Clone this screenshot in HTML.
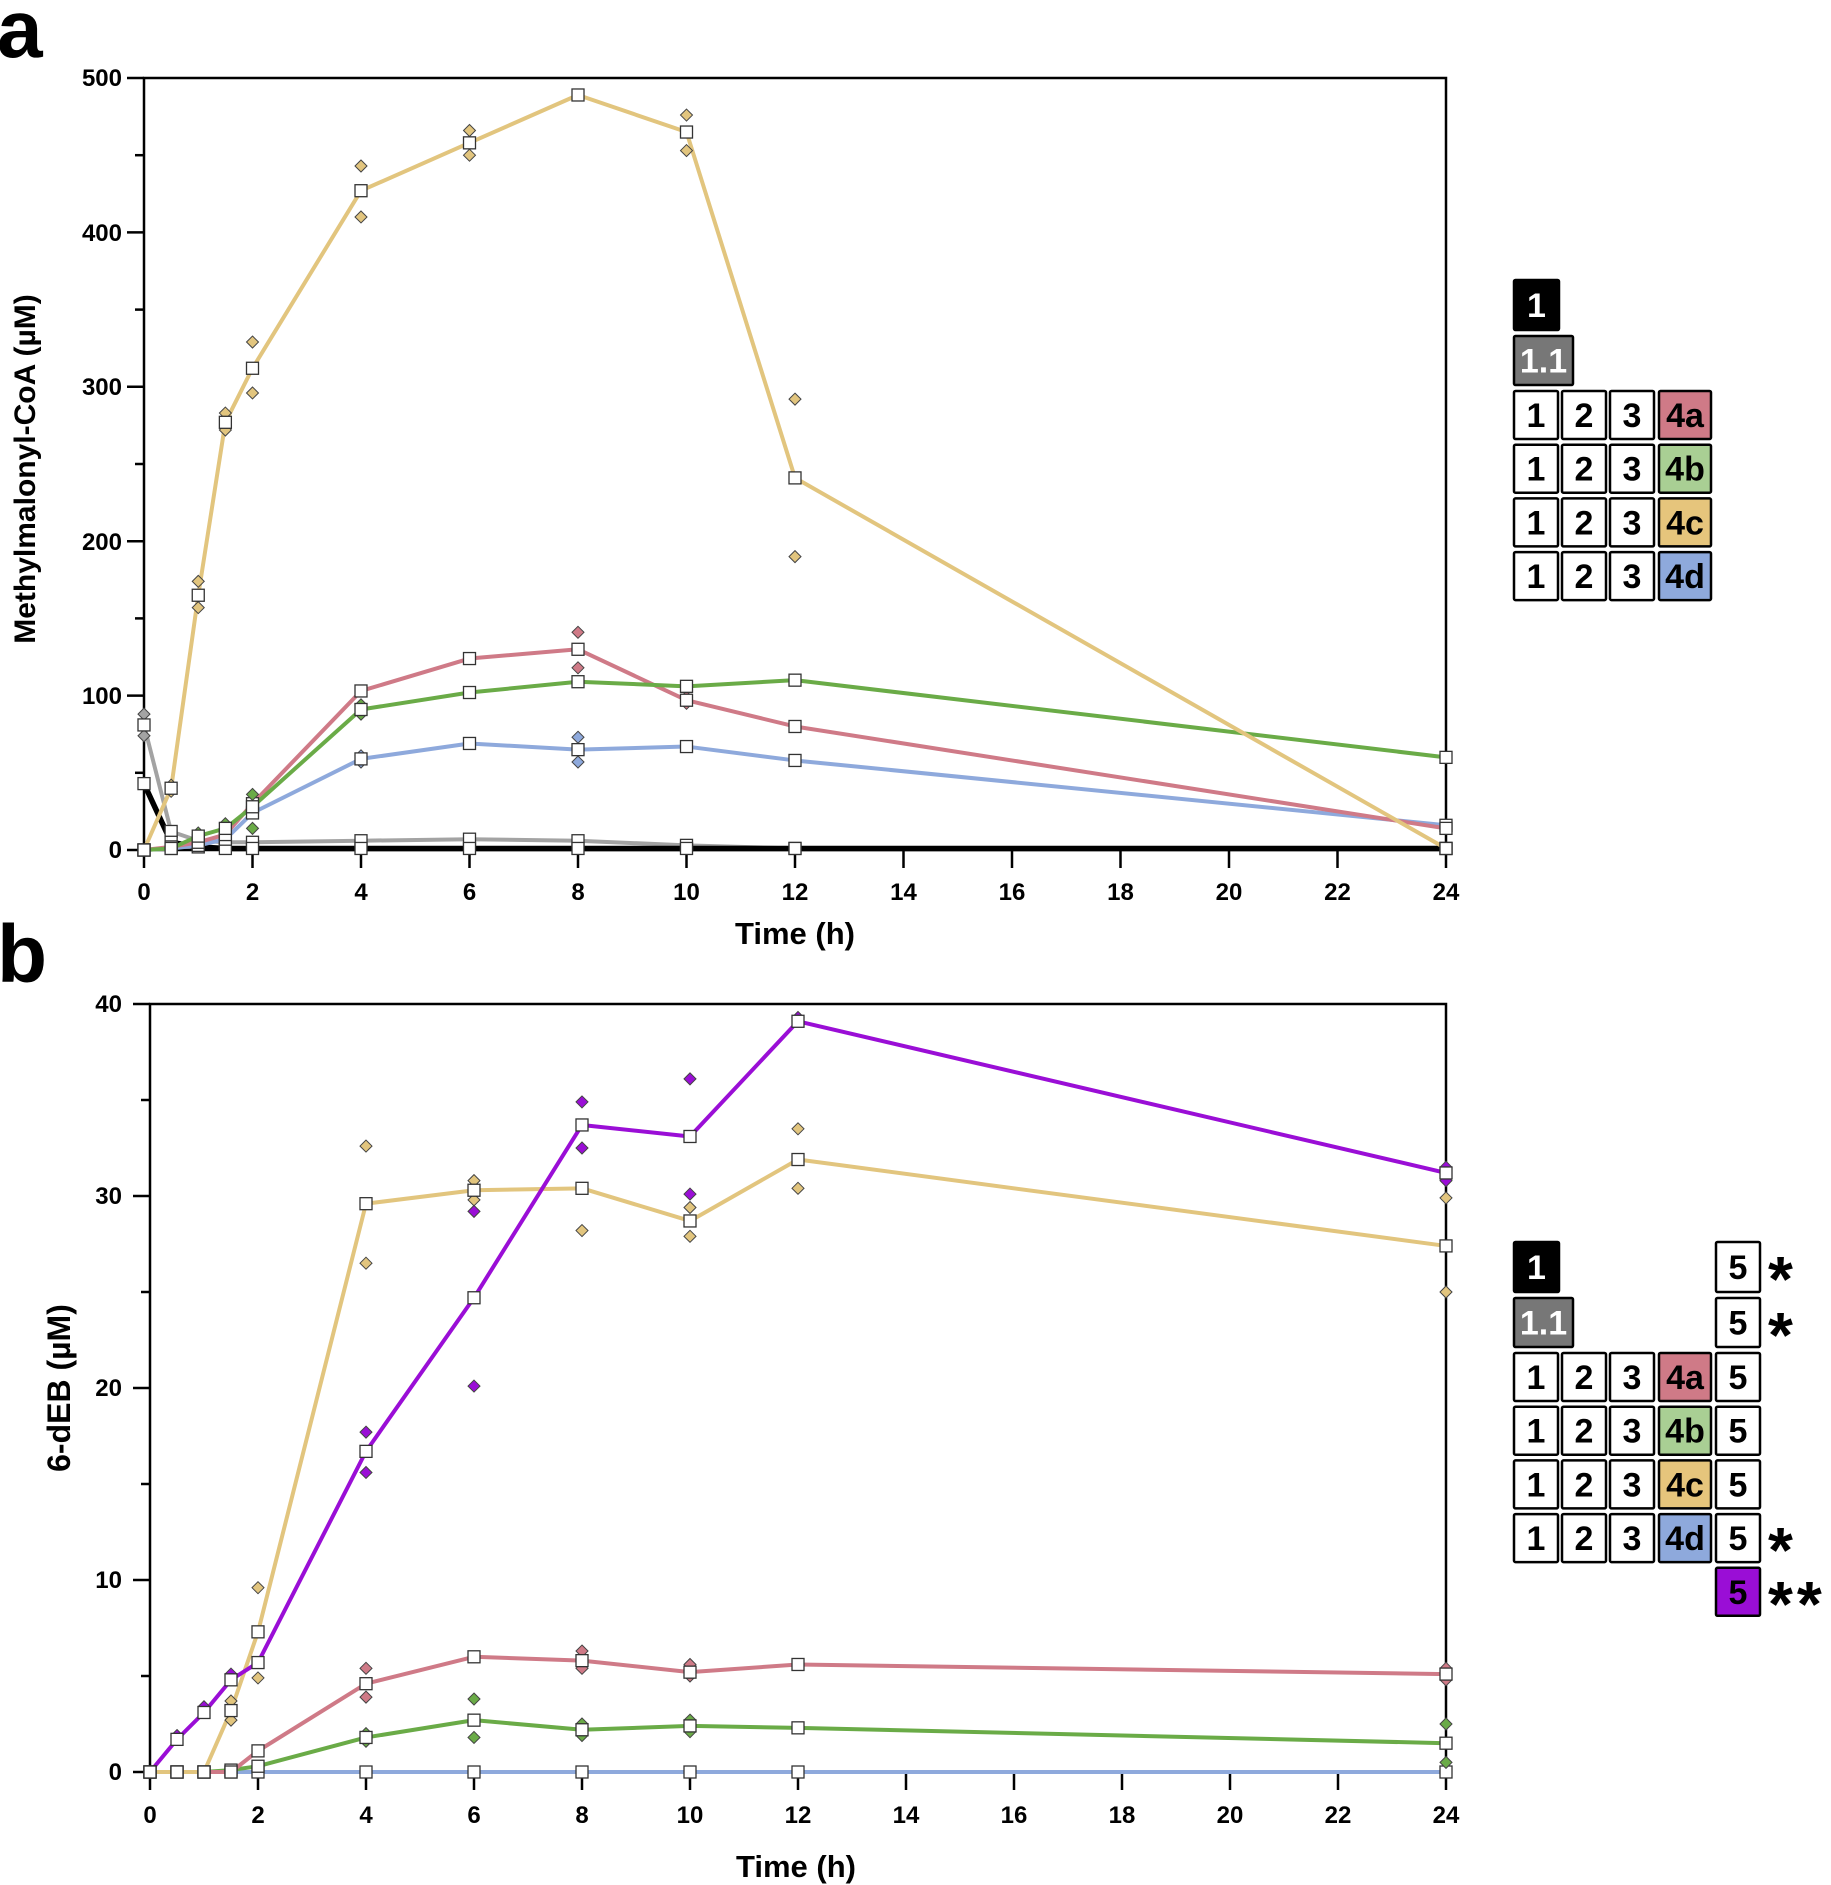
<!DOCTYPE html>
<html><head><meta charset="utf-8">
<style>
html,body{margin:0;padding:0;background:#fff;}
svg{display:block;}
text{font-family:"Liberation Sans",Arial,sans-serif;font-weight:bold;}
</style></head>
<body>
<svg id="s" width="1831" height="1885" viewBox="0 0 1831 1885" xmlns="http://www.w3.org/2000/svg">
<rect width="1831" height="1885" fill="#fff"/>
<text x="-3" y="57" font-size="82">a</text>
<text x="-3" y="982" font-size="82">b</text>
<g id="axA" stroke="#000" stroke-width="2.5" fill="none"></g>
<g id="axB" stroke="#000" stroke-width="2.5" fill="none"></g>
<g id="plot"></g>
<g font-size="24" text-anchor="end">
<text x="122" y="86">500</text><text x="122" y="241">400</text><text x="122" y="395">300</text>
<text x="122" y="550">200</text><text x="122" y="704">100</text><text x="122" y="858">0</text>
<text x="122" y="1012">40</text><text x="122" y="1204">30</text><text x="122" y="1396">20</text>
<text x="122" y="1588">10</text><text x="122" y="1780">0</text>
</g>
<g font-size="24" text-anchor="middle">
<text x="144" y="900">0</text><text x="252.5" y="900">2</text><text x="361" y="900">4</text><text x="469.5" y="900">6</text><text x="578" y="900">8</text><text x="686.5" y="900">10</text><text x="795" y="900">12</text><text x="903.5" y="900">14</text><text x="1012" y="900">16</text><text x="1120.5" y="900">18</text><text x="1229" y="900">20</text><text x="1337.5" y="900">22</text><text x="1446" y="900">24</text>
</g>
<g font-size="24" text-anchor="middle">
<text x="150" y="1823">0</text><text x="258" y="1823">2</text><text x="366" y="1823">4</text><text x="474" y="1823">6</text><text x="582" y="1823">8</text><text x="690" y="1823">10</text><text x="798" y="1823">12</text><text x="906" y="1823">14</text><text x="1014" y="1823">16</text><text x="1122" y="1823">18</text><text x="1230" y="1823">20</text><text x="1338" y="1823">22</text><text x="1446" y="1823">24</text>
</g>
<text x="795" y="944" font-size="31" text-anchor="middle">Time (h)</text>
<text x="796" y="1877" font-size="31" text-anchor="middle">Time (h)</text>
<text transform="translate(35,469) rotate(-90)" font-size="30" text-anchor="middle">Methylmalonyl-CoA (µM)</text>
<text transform="translate(70,1388) rotate(-90)" font-size="32" text-anchor="middle">6-dEB (µM)</text>
<g id="leg" font-size="34" text-anchor="middle"></g>
</svg>
<script>
var NS="http://www.w3.org/2000/svg";
function el(p,t,a){var e=document.createElementNS(NS,t);for(var k in a)e.setAttribute(k,a[k]);p.appendChild(e);return e;}
var axA=document.getElementById('axA'),axB=document.getElementById('axB'),plot=document.getElementById('plot'),leg=document.getElementById('leg');
function xa(t){return 144+54.25*t;} function ya(v){return 850-1.544*v;}
function xb(t){return 150+54*t;} function yb(v){return 1772-19.2*v;}
el(axA,'rect',{x:144,y:78,width:1302,height:772});
for(var v=0;v<=500;v+=50){var y=ya(v);el(axA,'line',{x1:v%100==0?127:135,x2:144,y1:y,y2:y});}
for(var t=0;t<=24;t+=2){el(axA,'line',{x1:xa(t),x2:xa(t),y1:850,y2:868});}
el(axB,'rect',{x:150,y:1004,width:1296,height:768});
for(var v=0;v<=40;v+=5){var y=yb(v);el(axB,'line',{x1:v%10==0?133:141,x2:150,y1:y,y2:y});}
for(var t=0;t<=24;t+=2){el(axB,'line',{x1:xb(t),x2:xb(t),y1:1772,y2:1790});}
var T=[0,0.5,1,1.5,2,4,6,8,10,12,24];
function series(X,Y,data,col,w,reps){
  var pts=data.map(function(v,i){return X(T[i])+','+Y(v);}).join(' ');
  el(plot,'polyline',{points:pts,fill:'none',stroke:col,'stroke-width':w,'stroke-linejoin':'round'});
  return function(){
    (reps||[]).forEach(function(r){var x=X(r[0]),y=Y(r[1]);
      el(plot,'polygon',{points:(x)+','+(y-6)+' '+(x+6)+','+y+' '+x+','+(y+6)+' '+(x-6)+','+y,fill:col,stroke:'#444','stroke-width':1});});
    data.forEach(function(v,i){el(plot,'rect',{x:X(T[i])-6,y:Y(v)-6,width:12,height:12,fill:'#fff',stroke:'#333','stroke-width':1.3});});
  };
}
var TAN='#e2c57e',PINK='#cf7a87',GREEN='#6aab47',BLUE='#8ea9dc',GRAY='#a3a3a3',PUR='#9a0ed6';
var mk=[];
mk.push(series(xa,ya,[81,12,6,5,5,6,7,6,3,1,1],GRAY,4,[[0,88],[0,74]]));
mk.push(series(xa,ya,[43,5,2,1,1,1,1,1,1,1,1],'#000',5.5,[]));
mk.push(series(xa,ya,[0,1,3,7,24,59,69,65,67,58,16],BLUE,4,[[8,73],[8,57],[4,61],[4,57]]));
mk.push(series(xa,ya,[0,2,5,10,30,103,124,130,97,80,14],PINK,4,[[8,141],[8,118],[10,99],[10,95]]));
mk.push(series(xa,ya,[0,1,9,14,28,91,102,109,106,110,60],GREEN,4,[[2,36],[2,14],[1,11],[1.5,17],[4,94],[4,88]]));
mk.push(series(xa,ya,[0,40,165,277,312,427,458,489,465,241,1],TAN,4,[[0.5,42],[0.5,38],[1,174],[1,157],[1.5,283],[1.5,272],[2,329],[2,296],[4,443],[4,410],[6,466],[6,450],[10,476],[10,453],[12,292],[12,190]]));
mk.push(series(xb,yb,[0,0,0,0,0,0,0,0,0,0,0],BLUE,4,[]));
mk.push(series(xb,yb,[0,0,0,0.1,0.3,1.8,2.7,2.2,2.4,2.3,1.5],GREEN,4,[[6,3.8],[6,1.8],[24,2.5],[24,0.5],[8,2.5],[8,1.9],[10,2.7],[10,2.1],[4,2.0],[4,1.6]]));
mk.push(series(xb,yb,[0,0,0,0,1.1,4.6,6.0,5.8,5.2,5.6,5.1],PINK,4,[[4,5.4],[4,3.9],[8,6.3],[8,5.4],[24,5.4],[24,4.8],[10,5.6],[10,5.0]]));
mk.push(series(xb,yb,[0,0,0,3.2,7.3,29.6,30.3,30.4,28.7,31.9,27.4],TAN,4,[[1.5,3.7],[1.5,2.7],[2,9.6],[2,4.9],[4,32.6],[4,26.5],[6,30.8],[6,29.8],[8,28.2],[10,29.4],[10,27.9],[12,33.5],[12,30.4],[24,29.9],[24,25]]));
mk.push(series(xb,yb,[0,1.7,3.1,4.8,5.7,16.7,24.7,33.7,33.1,39.1,31.2],PUR,4,[[0.5,1.9],[1,3.4],[1.5,5.1],[4,17.7],[4,15.6],[6,29.2],[6,20.1],[8,34.9],[8,32.5],[10,36.1],[10,30.1],[12,39.3],[24,31.5],[24,30.8]]));
mk.forEach(function(f){f();});
function box(x,y,w,h,fill,txt,tc){el(leg,'rect',{x:x,y:y,width:w,height:h,fill:fill,stroke:'#000','stroke-width':2.5,rx:1.5});
 var t=el(leg,'text',{x:x+w/2,y:y+h/2+12,fill:tc||'#000'});t.textContent=txt;}
function legend(y0,five){
  box(1514,y0,45,50,'#000','1','#fff');
  box(1514,y0+56,59,49,'#777','1.1','#fff');
  var cols=[PINK,'#a9cf94','#e6c57c',BLUE],lab=['4a','4b','4c','4d'];
  for(var r=0;r<4;r++){var y=y0+111+r*53.7;
    box(1514,y,44,48,'#fff','1');box(1562,y,44,48,'#fff','2');box(1610,y,44,48,'#fff','3');box(1659,y,52,48,cols[r],lab[r]);
    if(five)box(1716,y,44,48,'#fff','5');}
  if(five){box(1716,y0,44,50,'#fff','5');box(1716,y0+56,44,49,'#fff','5');
    box(1716,y0+111+4*53.7,44,48,PUR,'5');
    var st=[[y0+25,'*'],[y0+81,'*'],[y0+111+3*53.7+24,'*'],[y0+111+4*53.7+24,'**']];
    st.forEach(function(s){var t=el(leg,'text',{x:1768,y:s[0]+34,'font-size':64,'font-weight':'normal','text-anchor':'start','letter-spacing':'4'});t.textContent=s[1];});}
}
legend(280,false);
legend(1242,true);
</script>
</body></html>
